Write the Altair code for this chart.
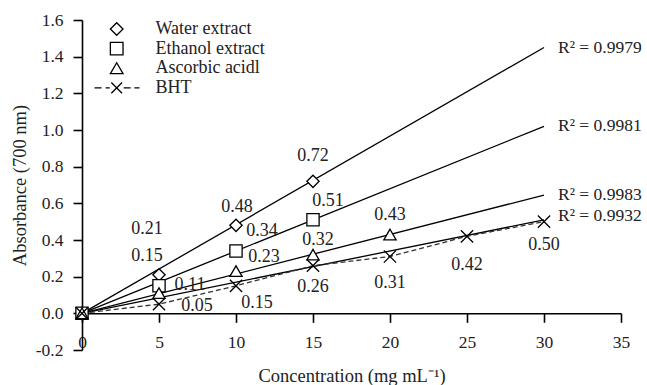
import altair as alt
import pandas as pd

# ---------------- data ----------------
series_names = ["Water extract", "Ethanol extract", "Ascorbic acidl", "BHT"]

water_x = [0, 5, 10, 15]
water_y = [0.0, 0.21, 0.48, 0.72]
ethanol_x = [0, 5, 10, 15]
ethanol_y = [0.0, 0.15, 0.34, 0.51]
ascorbic_x = [0, 5, 10, 15, 20]
ascorbic_y = [0.0, 0.11, 0.23, 0.32, 0.43]
bht_x = [0, 5, 10, 15, 20, 25, 30]
bht_y = [0.0, 0.05, 0.15, 0.26, 0.31, 0.42, 0.50]

# linear trend lines through the origin, end points at x = 30
trend_x = [0, 30]
trend_end_y = [1.45, 1.02, 0.645, 0.51]
r2_values = ["0.9979", "0.9981", "0.9983", "0.9932"]

x_ticks = [0, 5, 10, 15, 20, 25, 30, 35]
y_ticks = [-0.2, 0.0, 0.2, 0.4, 0.6, 0.8, 1.0, 1.2, 1.4, 1.6]

# ---------------- layout (label offsets in pixels) ----------------
W, H = 539, 330
X_DOM = [0, 35]
Y_DOM = [-0.2, 1.6]
label_dx = {
    "Water extract": [0, -12, 1, 0],
    "Ethanol extract": [0, -12, 26, 15],
    "Ascorbic acidl": [0, 31, 28, 5, 0],
    "BHT": [0, 38, 21, 0, 0, 0, 0],
}
label_dy = {
    "Water extract": [0, -46, -18, -25],
    "Ethanol extract": [0, -30, -20, -19],
    "Ascorbic acidl": [0, -8, -14, -15, -20],
    "BHT": [0, 2, 17, 21, 26, 29, 23],
}
r2_dy = [0, 0, 0, -4]

FONT = "Liberation Serif"
TXT = "#222222"

xs = {"Water extract": water_x, "Ethanol extract": ethanol_x,
      "Ascorbic acidl": ascorbic_x, "BHT": bht_x}
ys = {"Water extract": water_y, "Ethanol extract": ethanol_y,
      "Ascorbic acidl": ascorbic_y, "BHT": bht_y}

rows = []
for s in series_names:
    for i, (x, y) in enumerate(zip(xs[s], ys[s])):
        rows.append({"series": s, "x": x, "y": y,
                     "label": "" if x == 0 else f"{y:.2f}",
                     "dx": label_dx[s][i], "dy": label_dy[s][i]})
pts = pd.DataFrame(rows)

trend_rows = []
for s, e in zip(series_names, trend_end_y):
    trend_rows.append({"series": s, "x": trend_x[0], "y": 0.0})
    trend_rows.append({"series": s, "x": trend_x[1], "y": e})
trend = pd.DataFrame(trend_rows)

r2 = pd.DataFrame({"series": series_names, "x": [trend_x[1]] * 4, "y": trend_end_y,
                   "text": [f"R\u00b2 = {v}" for v in r2_values], "dy": r2_dy})

bht = pts[pts.series == "BHT"]

# ---------------- encodings ----------------
xscale = alt.Scale(domain=X_DOM, nice=False, zero=False)
yscale = alt.Scale(domain=Y_DOM, nice=False, zero=False)
x_axis = alt.Axis(values=x_ticks, title="Concentration (mg mL\u207b\u00b9)",
                  offset=-36.7, tickSize=9, labelPadding=11, grid=False,
                  labelFlush=False,
                  titleY=68, titleBaseline="alphabetic")
y_axis = alt.Axis(values=y_ticks, title="Absorbance (700 nm)",
                  labelExpr="replace(format(datum.value, '.1f'), '\u2212', '-')",
                  tickSize=9, labelPadding=10, grid=False, labelFlush=False,
                  titleX=-57, titleY=165, titleAngle=-90,
                  titleBaseline="alphabetic", titleAlign="center")
X = alt.X("x:Q", scale=xscale, axis=x_axis)
Y = alt.Y("y:Q", scale=yscale, axis=y_axis)
XL = alt.X("lx:Q", scale=xscale, axis=x_axis)
YL = alt.Y("ly:Q", scale=yscale, axis=y_axis)

x_path = "M-1,-1L1,1M-1,1L1,-1"
legend_x_path = ("M-3.5,0H-2.4M-1.75,0H-1.1M-0.85,-0.85L0.85,0.85M-0.85,0.85L0.85,-0.85"
                 "M1.1,0H2.2M2.8,0H3.6")

trend_layer = alt.Chart(trend).mark_line(color="black", strokeWidth=1.3).encode(
    x=X, y=Y, detail="series:N")

bht_layer = alt.Chart(bht).mark_line(color="#333333", strokeWidth=1.3,
                                     strokeDash=[5, 3]).encode(x=X, y=Y)

point_layer = alt.Chart(pts).mark_point(size=150, fill="white", stroke="black",
                                        strokeWidth=1.3, opacity=1, filled=False).encode(
    x=X, y=Y,
    shape=alt.Shape("series:N",
                    scale=alt.Scale(domain=series_names,
                                    range=["diamond", "square", "triangle-up", x_path]),
                    legend=None))

legend_layer = alt.Chart(pts).transform_filter("datum.x == 0").mark_point(
    size=150, color="black", opacity=0, filled=False).encode(
    x=X, y=Y,
    shape=alt.Shape("series:N",
                    scale=alt.Scale(domain=series_names,
                                    range=["diamond", "square", "triangle-up", legend_x_path]),
                    legend=alt.Legend(orient="none", legendX=25.7, legendY=0, title=None,
                                      symbolSize=160, symbolStrokeWidth=1.3,
                                      symbolOpacity=1,
                                      symbolFillColor="white", symbolStrokeColor="black",
                                      labelFont=FONT, labelFontSize=18, labelColor=TXT,
                                      labelOffset=29.7, rowPadding=1.6, padding=0)))

label_layer = alt.Chart(pts).transform_filter("datum.x > 0").transform_calculate(
    lx=f"datum.x + datum.dx * {(X_DOM[1] - X_DOM[0]) / W}",
    ly=f"datum.y - datum.dy * {(Y_DOM[1] - Y_DOM[0]) / H}",
).mark_text(font=FONT, fontSize=18, color=TXT, baseline="middle", align="center").encode(
    x=XL, y=YL, text="label:N")

r2_layer = alt.Chart(r2).transform_calculate(
    lx="datum.x",
    ly=f"datum.y - datum.dy * {(Y_DOM[1] - Y_DOM[0]) / H}",
).mark_text(font=FONT, fontSize=17.5, color=TXT, align="left",
            baseline="middle", dx=14).encode(
    x=XL, y=YL, text="text:N")

chart = alt.layer(trend_layer, bht_layer, point_layer, legend_layer, label_layer, r2_layer
).resolve_scale(shape="independent").properties(
    width=W, height=H,
    autosize=alt.AutoSizeParams(type="none"),
    padding={"left": 82, "top": 20, "right": 26, "bottom": 35},
    background="white",
).configure_view(stroke=None).configure_axis(
    labelFont=FONT, titleFont=FONT, labelFontSize=17.5, titleFontSize=18.5,
    labelColor=TXT, titleColor=TXT, titleFontWeight="normal",
    domainColor="black", tickColor="black", domainWidth=1.6, tickWidth=1.6,
)

chart.save("out.html", embed_options={"renderer": "svg", "actions": False})
